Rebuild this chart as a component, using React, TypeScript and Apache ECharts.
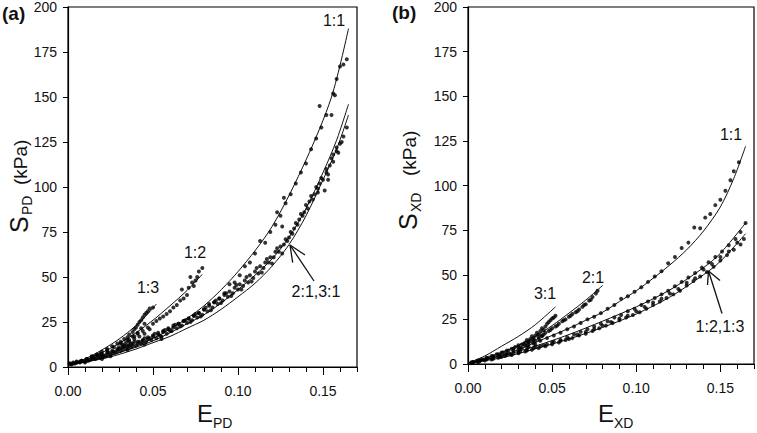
import React, { useEffect, useRef } from 'react';
import * as echarts from 'echarts';

// ---------- axis ticks ----------
const xMajorTicks = [0, 0.05, 0.1, 0.15];
const yMax = 200;
const yInterval = 25;
const xMax = 0.17;

// ---------- Panel (a): fitted curves ----------
const fitA11X = [0, 0.02, 0.04, 0.06, 0.08, 0.1, 0.12, 0.14, 0.155, 0.165];
const fitA11Y = [1, 5, 11.5, 21, 34, 53, 78, 115, 150, 188];
const fitA12X = [0, 0.01, 0.02, 0.03, 0.04, 0.05, 0.06, 0.07, 0.079];
const fitA12Y = [1, 4, 8, 13, 19, 26, 34, 42.5, 51.5];
const fitA13X = [0, 0.01, 0.02, 0.03, 0.04, 0.046, 0.052];
const fitA13Y = [1, 4.5, 9.5, 15.5, 23, 28.5, 35];
const fitA21X = [0, 0.01, 0.02, 0.03, 0.04, 0.05, 0.06, 0.07, 0.08, 0.09, 0.1, 0.11, 0.12, 0.13, 0.14, 0.15, 0.158, 0.165];
const fitA21Y = [1.5, 3, 5, 8, 11, 14.5, 19, 24, 29, 35.5, 43, 51, 60, 72, 88, 108, 126, 146];
const fitA31X = [0, 0.01, 0.02, 0.03, 0.04, 0.05, 0.06, 0.07, 0.08, 0.09, 0.1, 0.11, 0.12, 0.13, 0.14, 0.15, 0.158, 0.165];
const fitA31Y = [1.5, 2.8, 4.5, 7, 10, 13.5, 17, 21.5, 26, 32, 39, 46.5, 56, 68, 84, 104, 121, 140];

// ---------- Panel (a): measured points ----------
const dotsA11 = [
  [0.001, 2], [0.003, 2.5], [0.005, 3], [0.008, 3.5], [0.011, 4.5], [0.014, 5.5], [0.017, 6.5], [0.02, 7],
  [0.023, 8], [0.026, 9], [0.029, 10], [0.032, 11], [0.035, 12], [0.038, 13], [0.041, 14], [0.044, 15],
  [0.047, 16.5], [0.05, 17.5], [0.053, 19], [0.056, 20], [0.059, 21.5], [0.062, 23], [0.065, 24], [0.068, 25.5],
  [0.071, 27], [0.074, 28.5], [0.077, 30], [0.08, 32], [0.083, 35], [0.086, 36], [0.089, 38], [0.092, 41],
  [0.095, 46], [0.098, 47], [0.101, 51], [0.104, 56], [0.107, 58], [0.11, 63], [0.113, 70], [0.116, 69],
  [0.119, 75], [0.122, 79], [0.123, 86], [0.125, 84], [0.126, 78], [0.127, 94], [0.128, 91], [0.131, 96],
  [0.134, 102], [0.137, 108], [0.14, 113], [0.143, 121], [0.146, 127], [0.148, 145], [0.149, 133],
  [0.152, 140], [0.155, 140], [0.156, 152], [0.157, 151], [0.158, 160], [0.16, 167], [0.162, 168], [0.164, 171]
];
const dotsA12 = [
  [0.003, 2], [0.007, 3], [0.011, 4.5], [0.015, 6], [0.019, 7.5], [0.023, 9.5], [0.027, 11], [0.031, 13],
  [0.035, 15], [0.038, 17], [0.041, 18.5], [0.044, 20], [0.047, 22], [0.05, 24], [0.052, 25.5], [0.054, 27],
  [0.056, 28], [0.058, 29.5], [0.06, 31], [0.062, 33], [0.064, 34.5], [0.066, 37], [0.067, 43], [0.068, 38],
  [0.07, 40], [0.071, 44], [0.072, 50], [0.073, 47], [0.074, 45], [0.075, 48], [0.076, 50], [0.077, 53], [0.079, 55],
  [0.033, 12], [0.036, 14], [0.039, 15.5], [0.042, 17], [0.045, 18.5], [0.048, 21]
];
const dotsA13 = [
  [0.002, 1.5], [0.005, 2.5], [0.008, 3.5], [0.011, 4.5], [0.014, 6], [0.017, 7], [0.02, 8.5], [0.023, 10],
  [0.026, 11.5], [0.029, 13], [0.031, 14], [0.033, 15.5], [0.035, 16.5], [0.036, 18], [0.038, 19.5],
  [0.039, 21], [0.04, 22], [0.041, 23.5], [0.042, 25], [0.043, 26], [0.044, 27.5], [0.045, 29], [0.046, 30],
  [0.047, 31], [0.048, 32.5], [0.05, 33], [0.03, 11], [0.032, 12.5], [0.034, 13.5], [0.036, 15], [0.037, 13],
  [0.039, 17], [0.041, 19], [0.043, 21.5], [0.045, 24]
];
const dotsA21 = [
  [0.002, 1.5], [0.005, 2.5], [0.008, 3], [0.011, 3.5], [0.014, 4.5], [0.017, 5], [0.02, 6], [0.023, 7],
  [0.026, 8], [0.029, 9], [0.032, 10], [0.035, 11], [0.038, 12], [0.041, 13], [0.044, 14.5], [0.047, 15.5],
  [0.05, 17], [0.053, 18], [0.056, 19.5], [0.059, 21], [0.062, 22], [0.065, 24], [0.068, 25.5], [0.071, 27],
  [0.074, 28.5], [0.077, 30], [0.08, 32], [0.083, 34], [0.086, 36], [0.089, 38], [0.092, 40], [0.095, 42],
  [0.098, 44], [0.101, 46], [0.104, 48], [0.107, 51], [0.11, 53], [0.113, 56], [0.116, 58], [0.119, 61],
  [0.122, 64], [0.125, 67], [0.128, 71], [0.131, 75], [0.134, 80], [0.137, 85], [0.14, 90], [0.143, 95],
  [0.146, 100], [0.149, 105], [0.152, 110], [0.155, 116], [0.158, 122], [0.161, 125]
];
const dotsA31 = [
  [0.001, 2], [0.004, 2], [0.007, 2.5], [0.01, 3], [0.013, 4], [0.016, 4.5], [0.019, 5.5], [0.022, 6],
  [0.025, 7], [0.028, 8], [0.031, 9], [0.034, 10], [0.037, 11], [0.04, 12], [0.043, 13], [0.046, 14],
  [0.049, 15], [0.052, 16], [0.055, 17], [0.058, 18.5], [0.061, 20], [0.064, 21.5], [0.067, 23], [0.07, 24.5],
  [0.073, 26], [0.076, 27.5], [0.079, 29], [0.082, 31], [0.085, 33], [0.088, 35], [0.091, 37], [0.094, 39],
  [0.097, 41], [0.1, 43], [0.103, 45], [0.106, 47], [0.109, 49.5], [0.112, 52], [0.115, 55], [0.118, 58],
  [0.121, 61], [0.124, 64], [0.127, 68], [0.13, 72], [0.133, 77], [0.136, 82], [0.139, 86], [0.142, 92],
  [0.145, 96], [0.147, 99], [0.148, 102], [0.151, 98], [0.152, 108], [0.153, 104], [0.154, 112],
  [0.156, 118], [0.158, 120], [0.16, 124], [0.162, 128], [0.164, 133]
];
const dotsA21Extra = [
  [0.015, 5], [0.018, 6], [0.021, 6.5], [0.024, 8], [0.027, 8.5], [0.03, 10], [0.033, 11.5], [0.036, 12],
  [0.039, 14], [0.042, 14], [0.045, 16], [0.048, 16], [0.051, 18.5], [0.054, 17.5], [0.057, 20.5], [0.06, 20],
  [0.063, 23.5], [0.066, 22.5], [0.069, 26], [0.072, 25], [0.075, 29.5], [0.078, 28], [0.081, 33], [0.084, 31.5],
  [0.087, 37], [0.09, 35.5], [0.093, 41], [0.096, 39.5], [0.099, 45.5], [0.102, 43], [0.105, 50], [0.108, 47.5],
  [0.111, 55], [0.114, 52.5], [0.117, 60], [0.12, 57.5], [0.123, 66], [0.126, 63], [0.129, 70], [0.132, 74],
  [0.135, 79], [0.138, 84], [0.141, 88], [0.144, 93], [0.147, 97], [0.15, 104], [0.153, 107], [0.156, 114],
  [0.159, 119], [0.01, 2.5], [0.012, 3.5], [0.02, 4.5], [0.025, 6], [0.035, 9.5], [0.045, 12.5], [0.055, 15.5]
];

// ---------- Panel (b): fitted curves ----------
const fitB11X = [0, 0.01, 0.02, 0.03, 0.04, 0.05, 0.06, 0.07, 0.08, 0.09, 0.1, 0.11, 0.12, 0.13, 0.14, 0.15, 0.158, 0.165];
const fitB11Y = [0.5, 2.5, 5, 8, 12, 16, 20, 24.5, 29, 35, 41, 48, 55.5, 64, 74.5, 88, 104, 122];
const fitB21X = [0, 0.01, 0.02, 0.03, 0.04, 0.05, 0.06, 0.07, 0.08];
const fitB21Y = [0.5, 3, 6.5, 10.5, 15.5, 21.5, 28.5, 35.8, 44];
const fitB31X = [0, 0.01, 0.02, 0.03, 0.04, 0.052];
const fitB31Y = [0.5, 4.5, 10, 15.5, 22, 32];
const fitB12X = [0, 0.02, 0.04, 0.06, 0.08, 0.1, 0.12, 0.14, 0.15, 0.165];
const fitB12Y = [0.5, 4.5, 10, 16.5, 24, 32, 41.5, 54, 62, 79];
const fitB13X = [0, 0.02, 0.04, 0.06, 0.08, 0.1, 0.12, 0.14, 0.15, 0.165];
const fitB13Y = [0.5, 3.5, 8.5, 14, 20.5, 28, 37.5, 50, 57.5, 73];

// ---------- Panel (b): measured points ----------
const dotsB11 = [
  [0.003, 1], [0.007, 2], [0.011, 3], [0.015, 4], [0.019, 5], [0.023, 6], [0.027, 7.5], [0.031, 9],
  [0.035, 10], [0.039, 11.5], [0.043, 13], [0.047, 14.5], [0.051, 16], [0.055, 17.5], [0.059, 19.5],
  [0.063, 21], [0.067, 23], [0.071, 25], [0.075, 26.5], [0.079, 28.5], [0.083, 31], [0.087, 33],
  [0.091, 36.5], [0.095, 38], [0.099, 40.5], [0.103, 43], [0.107, 46], [0.111, 49], [0.115, 52],
  [0.119, 56.5], [0.123, 60], [0.127, 65], [0.131, 68], [0.1345, 76.5], [0.138, 76], [0.141, 82],
  [0.144, 84], [0.147, 89], [0.15, 92], [0.153, 97], [0.156, 103], [0.158, 108], [0.161, 113]
];
const dotsB21 = [
  [0.003, 1], [0.006, 2], [0.009, 2.5], [0.012, 3.5], [0.015, 4.5], [0.018, 5.5], [0.021, 6.5], [0.024, 7.5],
  [0.027, 8.5], [0.03, 9.5], [0.033, 11], [0.036, 12], [0.039, 13.5], [0.042, 15], [0.044, 16], [0.046, 17.5],
  [0.048, 18.5], [0.05, 20], [0.052, 21], [0.054, 22.5], [0.056, 24], [0.058, 25], [0.06, 26.5], [0.062, 28],
  [0.064, 29], [0.066, 30.5], [0.068, 32], [0.07, 33.5], [0.072, 35.5], [0.074, 37.5], [0.076, 39.5], [0.077, 41],
  [0.045, 16.5], [0.049, 19], [0.053, 21.5], [0.057, 24.5], [0.061, 27], [0.065, 29.5], [0.069, 33], [0.073, 36]
];
const dotsB31 = [
  [0.002, 1], [0.005, 1.5], [0.008, 2.5], [0.011, 3.5], [0.014, 4.5], [0.017, 5.5], [0.02, 6.5], [0.023, 7.5],
  [0.026, 8.5], [0.028, 9.5], [0.03, 10.5], [0.032, 11], [0.034, 12], [0.035, 13.5], [0.036, 12.5],
  [0.037, 14], [0.038, 15.5], [0.039, 14.5], [0.04, 16], [0.041, 17.5], [0.042, 16.5], [0.043, 18.5],
  [0.044, 20], [0.045, 19], [0.046, 21], [0.047, 22.5], [0.048, 23.5], [0.049, 24.5], [0.05, 25.5],
  [0.051, 26], [0.052, 27], [0.03, 8], [0.032, 9], [0.034, 10.5], [0.036, 11], [0.038, 12.5], [0.04, 13],
  [0.042, 14], [0.044, 15.5], [0.036, 9.5], [0.04, 11]
];
const dotsB12 = [
  [0.003, 1], [0.007, 1.5], [0.011, 2.5], [0.015, 3], [0.019, 4], [0.023, 5], [0.027, 6], [0.031, 7],
  [0.035, 8], [0.039, 9], [0.043, 10], [0.047, 11], [0.051, 12.5], [0.055, 13.5], [0.059, 15], [0.063, 16.5],
  [0.067, 18], [0.071, 19.5], [0.075, 21], [0.079, 22.5], [0.083, 24], [0.087, 26], [0.091, 27.5],
  [0.095, 29.5], [0.099, 31], [0.103, 33], [0.107, 35], [0.111, 37], [0.115, 39], [0.119, 41], [0.123, 43.5],
  [0.127, 46], [0.131, 48.5], [0.135, 51], [0.139, 54], [0.143, 57], [0.147, 60], [0.151, 63], [0.155, 66.5],
  [0.159, 70], [0.162, 74], [0.165, 79]
];
const dotsB13 = [
  [0.002, 0.5], [0.006, 1], [0.01, 2], [0.014, 2.5], [0.018, 3.5], [0.022, 4.5], [0.026, 5], [0.03, 6],
  [0.034, 7], [0.038, 8], [0.042, 9], [0.046, 10], [0.05, 11], [0.054, 12], [0.058, 13.5], [0.062, 14.5],
  [0.066, 16], [0.07, 17], [0.074, 18.5], [0.078, 20], [0.082, 21.5], [0.086, 23], [0.09, 24.5], [0.094, 26],
  [0.098, 27.5], [0.102, 29], [0.106, 31], [0.11, 33], [0.114, 35], [0.118, 37], [0.122, 39], [0.126, 41],
  [0.13, 44], [0.134, 46.5], [0.138, 49], [0.142, 51.5], [0.146, 54.5], [0.15, 58], [0.154, 61],
  [0.158, 64], [0.162, 67], [0.164, 70]
];
const dotsB12Extra = [
  [0.02, 4], [0.025, 5.5], [0.03, 6.5], [0.035, 7.5], [0.04, 9.5], [0.045, 10.5], [0.05, 12], [0.055, 13],
  [0.06, 14], [0.065, 16.5], [0.07, 18], [0.075, 19.5], [0.08, 21.5], [0.085, 23.5], [0.09, 25.5], [0.095, 27],
  [0.1, 29.5], [0.105, 32], [0.11, 34.5], [0.115, 36.5], [0.12, 39.5], [0.125, 42], [0.13, 45.5], [0.135, 48],
  [0.14, 53], [0.145, 56], [0.15, 60], [0.155, 63], [0.16, 68]
];

const FONT = '"Liberation Sans", Arial, sans-serif';
const INK = '#111';

const zip = (xs: number[], ys: number[]) => xs.map((x, i) => [x, ys[i]]);

function lineSeries(name: string, xs: number[], ys: number[], panel: number) {
  return {
    name, type: 'line', xAxisIndex: panel, yAxisIndex: panel, data: zip(xs, ys),
    smooth: 0.3, showSymbol: false, symbol: 'none',
    lineStyle: { color: INK, width: 1 }, z: 3
  };
}
function dotSeries(name: string, pts: number[][], panel: number) {
  return {
    name, type: 'scatter', xAxisIndex: panel, yAxisIndex: panel, data: pts,
    symbol: 'circle', symbolSize: 4, itemStyle: { color: '#000' }, z: 4
  };
}

function mainX(grid: number) {
  return {
    type: 'value', gridIndex: grid, min: 0, max: xMax, interval: 0.01, position: 'bottom',
    axisLine: { show: true, onZero: false, lineStyle: { color: '#000', width: 1.2 } },
    axisTick: { show: true, length: 5, lineStyle: { color: '#000', width: 1 } },
    axisLabel: {
      show: true, interval: 0, margin: 17, fontSize: 14, fontFamily: FONT, color: INK,
      formatter: (v: number) => {
        const k = Math.round(v * 100);
        return k % 5 === 0 && xMajorTicks.some(t => Math.abs(t - v) < 1e-6) ? (k / 100).toFixed(2) : '';
      }
    },
    splitLine: { show: false }
  };
}
function majorX(grid: number) {
  return {
    type: 'value', gridIndex: grid, min: 0, max: xMax, interval: 0.05, position: 'bottom', offset: 0,
    axisLine: { show: false },
    axisTick: { show: true, length: 8, customValues: xMajorTicks, lineStyle: { color: '#000', width: 1 } },
    axisLabel: { show: false },
    splitLine: { show: false }
  };
}
function yAx(grid: number) {
  return {
    type: 'value', gridIndex: grid, min: 0, max: yMax, interval: yInterval,
    axisLine: { show: true, onZero: false, lineStyle: { color: '#000', width: 1.2 } },
    axisTick: { show: true, length: 5, lineStyle: { color: '#000', width: 1 } },
    axisLabel: { fontSize: 14, fontFamily: FONT, color: INK, margin: 11 },
    splitLine: { show: false }
  };
}

function txt(text: string, x: number, y: number, size: number, extra: any = {}) {
  return {
    type: 'text', x, y, rotation: extra.rotation || 0,
    style: {
      text, fontSize: size, fontFamily: FONT, fontWeight: extra.bold ? 'bold' : 'normal', fill: INK,
      align: extra.align || 'center', verticalAlign: 'middle'
    }
  };
}
function seg(x1: number, y1: number, x2: number, y2: number) {
  return { type: 'line', shape: { x1, y1, x2, y2 }, style: { stroke: INK, lineWidth: 1.3 } };
}

export default function App() {
  const ref = useRef<HTMLDivElement>(null);
  useEffect(() => {
    if (!ref.current) return;
    const chart = echarts.init(ref.current, undefined, { renderer: 'svg' });
    const R = Math.PI / 2;
    chart.setOption({
      animation: false,
      backgroundColor: '#fff',
      grid: [
        { left: 68, top: 7, width: 289, height: 360, show: true, borderColor: '#000', borderWidth: 1.2, backgroundColor: 'transparent' },
        { left: 468, top: 6, width: 288, height: 358, show: true, borderColor: '#000', borderWidth: 1.2, backgroundColor: 'transparent' }
      ],
      xAxis: [mainX(0), mainX(1), majorX(0), majorX(1)],
      yAxis: [yAx(0), yAx(1)],
      series: [
        lineSeries('a 1:1 fit', fitA11X, fitA11Y, 0),
        lineSeries('a 1:2 fit', fitA12X, fitA12Y, 0),
        lineSeries('a 1:3 fit', fitA13X, fitA13Y, 0),
        lineSeries('a 2:1 fit', fitA21X, fitA21Y, 0),
        lineSeries('a 3:1 fit', fitA31X, fitA31Y, 0),
        dotSeries('a 1:1', dotsA11, 0),
        dotSeries('a 1:2', dotsA12, 0),
        dotSeries('a 1:3', dotsA13, 0),
        dotSeries('a 2:1', dotsA21, 0),
        dotSeries('a 3:1', dotsA31, 0),
        dotSeries('a 2:1 b', dotsA21Extra, 0),
        lineSeries('b 1:1 fit', fitB11X, fitB11Y, 1),
        lineSeries('b 2:1 fit', fitB21X, fitB21Y, 1),
        lineSeries('b 3:1 fit', fitB31X, fitB31Y, 1),
        lineSeries('b 1:2 fit', fitB12X, fitB12Y, 1),
        lineSeries('b 1:3 fit', fitB13X, fitB13Y, 1),
        dotSeries('b 1:1', dotsB11, 1),
        dotSeries('b 2:1', dotsB21, 1),
        dotSeries('b 3:1', dotsB31, 1),
        dotSeries('b 1:2', dotsB12, 1),
        dotSeries('b 1:3', dotsB13, 1),
        dotSeries('b 1:2 b', dotsB12Extra, 1)
      ],
      graphic: [
        // panel letters
        txt('(a)', 2, 13, 19, { bold: true, align: 'left' }),
        txt('(b)', 392, 12, 19, { bold: true, align: 'left' }),
        // panel (a) curve labels
        txt('1:1', 334, 20, 16),
        txt('1:2', 195, 252, 16),
        txt('1:3', 148, 287, 16),
        txt('2:1,3:1', 316, 291, 16),
        seg(290, 245, 314, 281),
        seg(290, 245, 305, 255),
        seg(290, 245, 292.7, 262.7),
        // panel (b) curve labels
        txt('1:1', 731, 134, 16),
        txt('2:1', 593, 277, 16),
        txt('3:1', 545, 293, 16),
        txt('1:2,1:3', 720, 326, 16),
        seg(708.5, 271, 722, 313.5),
        seg(708.5, 271, 720, 280.5),
        seg(708.5, 271, 707.5, 285),
        // axis titles (a)
        txt('E', 197, 413.5, 24, { align: 'left' }),
        txt('PD', 213, 422.5, 14, { align: 'left' }),
        txt('S', 19, 233, 25, { align: 'left', rotation: R }),
        txt('PD', 27, 215, 14, { align: 'left', rotation: R }),
        txt('(kPa)', 20, 185, 19, { align: 'left', rotation: R }),
        // axis titles (b)
        txt('E', 598, 413.5, 24, { align: 'left' }),
        txt('XD', 614, 422.5, 14, { align: 'left' }),
        txt('S', 408, 230, 25, { align: 'left', rotation: R }),
        txt('XD', 416, 212, 14, { align: 'left', rotation: R }),
        txt('(kPa)', 409, 176, 19, { align: 'left', rotation: R })
      ]
    });
    return () => chart.dispose();
  }, []);
  return (
    <div
      ref={ref}
      style={{ position: 'fixed', left: 0, top: 0, width: 757, height: 433, background: '#fff' }}
    />
  );
}
